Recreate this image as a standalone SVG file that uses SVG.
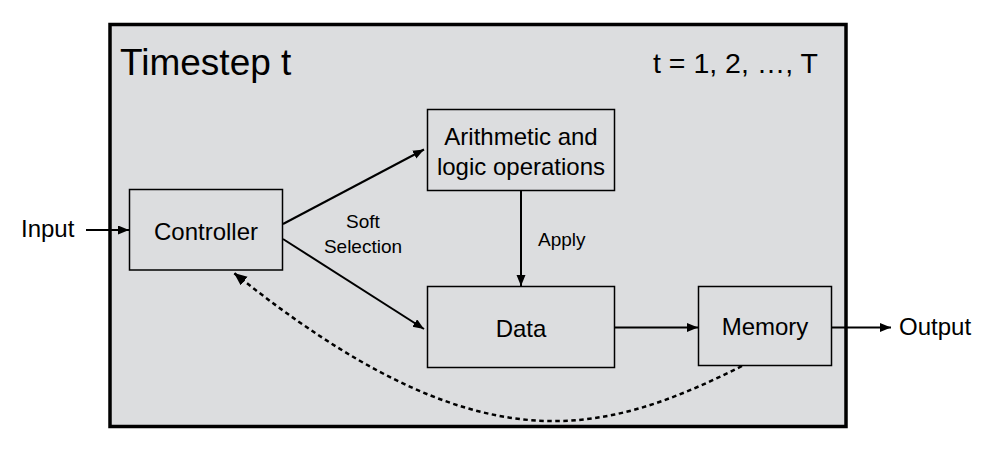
<svg xmlns="http://www.w3.org/2000/svg" width="995" height="452" viewBox="0 0 995 452">
  <style>
    text { font-family: "Liberation Sans", Arial, Helvetica, sans-serif; fill: #000; }
    .box { fill: none; stroke: #000; stroke-width: 1.5; }
    .lbl { font-size: 24px; text-anchor: middle; }
    .small { font-size: 19px; }
    .conn { fill: none; stroke: #000; stroke-width: 2; }
    .dash { fill: none; stroke: #000; stroke-width: 2.5; stroke-dasharray: 4.5 3.5; }
  </style>
  <defs>
    <marker id="ah" markerUnits="userSpaceOnUse" markerWidth="12" markerHeight="10" refX="11" refY="4.5" orient="auto">
      <path d="M0,0 L11,4.5 L0,9 z" fill="#000"/>
    </marker>
    <marker id="ahd" markerUnits="userSpaceOnUse" markerWidth="14" markerHeight="12" refX="13" refY="5.5" orient="auto">
      <path d="M0,0 L13,5.5 L0,11 z" fill="#000"/>
    </marker>
  </defs>
  <rect width="995" height="452" fill="#ffffff"/>

  <g id="frame">
    <rect x="110" y="24.5" width="736" height="402" fill="#dcdddf" stroke="#000" stroke-width="3.5"/>
    <text x="120" y="75" font-size="37px">Timestep t</text>
    <text x="653" y="73" font-size="28.5px">t = 1, 2, …, T</text>
  </g>

  <g id="input">
    <text x="21" y="237" font-size="24px">Input</text>
  </g>
  <g id="output">
    <text x="899" y="335" font-size="24px">Output</text>
  </g>

  <g id="controller">
    <rect class="box" x="129.5" y="189.5" width="153" height="80.5"/>
    <text class="lbl" x="206" y="240">Controller</text>
  </g>

  <g id="arithmetic">
    <rect class="box" x="427.5" y="109.5" width="187" height="81"/>
    <text class="lbl" x="521" y="145">Arithmetic and</text>
    <text class="lbl" x="521" y="175">logic operations</text>
  </g>

  <g id="data">
    <rect class="box" x="427.5" y="286.5" width="187" height="81"/>
    <text class="lbl" x="521" y="337">Data</text>
  </g>

  <g id="memory">
    <rect class="box" x="698.5" y="286.5" width="133" height="79"/>
    <text class="lbl" x="765" y="335">Memory</text>
  </g>

  <g id="connectors">
    <line class="conn" x1="86" y1="230" x2="129" y2="230" marker-end="url(#ah)"/>
    <line class="conn" x1="283" y1="224" x2="424" y2="149.5" marker-end="url(#ah)"/>
    <line class="conn" x1="283" y1="239" x2="424" y2="329" marker-end="url(#ah)"/>
    <line class="conn" x1="521" y1="190.5" x2="521" y2="286" marker-end="url(#ah)"/>
    <line class="conn" x1="614.5" y1="327.5" x2="698" y2="327.5" marker-end="url(#ah)"/>
    <line class="conn" x1="831.5" y1="327.5" x2="891" y2="327.5" marker-end="url(#ah)"/>
    <path class="dash" d="M742,366 C598,438 477,468 234,273" marker-end="url(#ahd)"/>
    <text class="small" x="363" y="228" text-anchor="middle">Soft</text>
    <text class="small" x="363" y="253" text-anchor="middle">Selection</text>
    <text class="small" x="538" y="246">Apply</text>
  </g>
</svg>
